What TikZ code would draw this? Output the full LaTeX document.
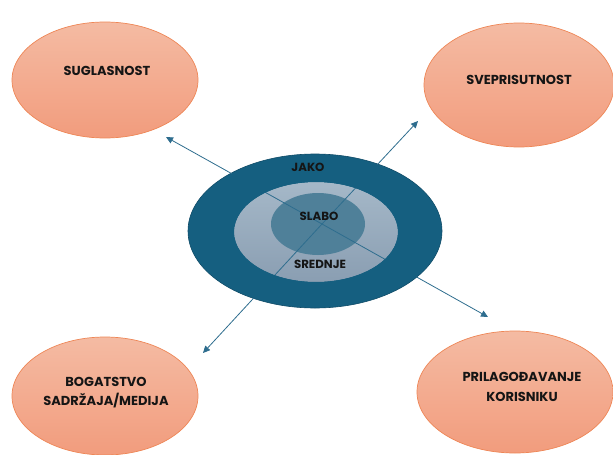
\documentclass[tikz,border=0pt]{standalone}
\usepackage{fontspec}
\setmainfont{Poppins}
\usetikzlibrary{shapes.geometric,arrows.meta}
\definecolor{peachtop}{HTML}{F4BBA3}
\definecolor{peachbot}{HTML}{F29C7D}
\definecolor{peachedge}{HTML}{EE8656}
\definecolor{ringblue}{HTML}{155F80}
\definecolor{ringedge}{HTML}{0F4A66}
\definecolor{midtop}{HTML}{A5B8C8}
\definecolor{midbot}{HTML}{8A9EB2}
\definecolor{innerblue}{HTML}{4F8099}
\definecolor{arrowblue}{HTML}{2E6D8E}
\definecolor{txt}{HTML}{151515}
\begin{document}
\begin{tikzpicture}[x=1pt,y=-1pt,
  peach/.style={ellipse,draw=peachedge,line width=0.7pt,top color=peachtop,bottom color=peachbot,inner sep=0pt},
  lbl/.style={font=\bfseries\fontsize{13}{19.5}\selectfont,text=txt,align=center,inner sep=0pt},
  ringlbl/.style={font=\bfseries\fontsize{11.8}{13}\selectfont,text=txt,inner sep=0pt},
  arr/.style={draw=arrowblue,line width=0.8pt,-{Triangle[length=7pt,width=6.5pt]}}]
\useasboundingbox (0,0) rectangle (613,455);
% satellites
\node[peach,minimum width=186pt,minimum height=116pt] (sug) at (105,80) {};
\node[peach,minimum width=190pt,minimum height=124pt] (sve) at (519,85) {};
\node[peach,minimum width=186pt,minimum height=118pt] (bog) at (105,396) {};
\node[peach,minimum width=196pt,minimum height=122pt] (pri) at (515,392) {};
\node[lbl] (tsug) at (107,71) {SUGLASNOST};
\node[lbl] (tsve) at (519,80) {SVEPRISUTNOST};
\node[lbl] (tbog) at (106,392.5) {BOGATSTVO\\SADRŽAJA/MEDIJA};
\node[lbl] (tpri) at (522,387) {PRILAGOĐAVANJE\\KORISNIKU};
% centre
\node[ellipse,draw=ringedge,line width=0.6pt,fill=ringblue,minimum width=254pt,minimum height=154pt,inner sep=0pt] (outer) at (315,231) {};
\node[ellipse,top color=midtop,bottom color=midbot,minimum width=164pt,minimum height=100pt,inner sep=0pt] (mid) at (316,232) {};
\node[ellipse,fill=innerblue,minimum width=94pt,minimum height=62pt,inner sep=0pt] (inner) at (318,224) {};
% arrows
\coordinate (c) at (322,224);
\coordinate (enw) at (166,137);
\coordinate (ene) at (418,121);
\coordinate (esw) at (203,353);
\coordinate (ese) at (488,317);
\draw[arr] (c) -- (enw);
\draw[arr] (c) -- (ene);
\draw[arr] (c) -- (esw);
\draw[arr] (c) -- (ese);
% dark ring hides the connectors
\fill[ringblue,even odd rule] (315,231) ellipse[x radius=126.4,y radius=76.4] (316,232) ellipse[x radius=82,y radius=50];
\node[ringlbl] (jako) at (308,167) {JAKO};
\node[ringlbl] (slabo) at (319,216) {SLABO};
\node[ringlbl] (sred) at (320,264) {SREDNJE};
\end{tikzpicture}
\end{document}
